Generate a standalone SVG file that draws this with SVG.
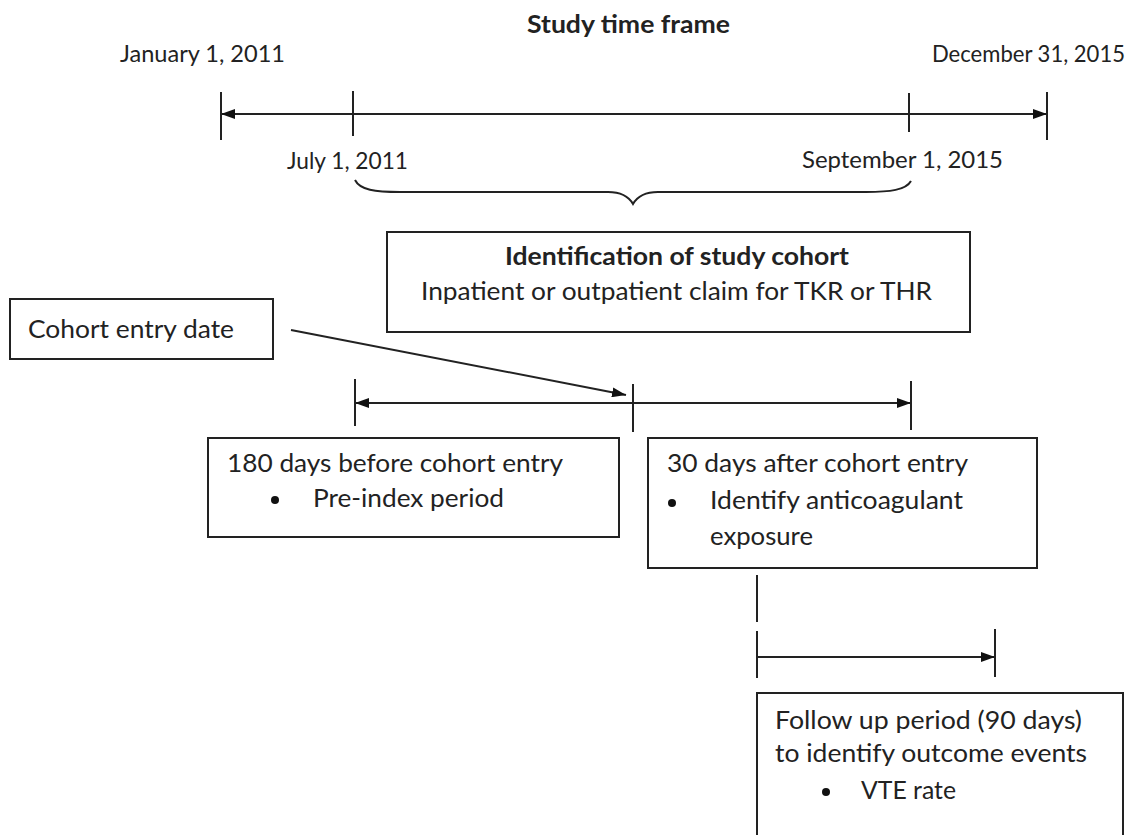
<svg xmlns="http://www.w3.org/2000/svg" width="1144" height="835" viewBox="0 0 1144 835">
  <style>
    .t { font-family: Lato, "Open Sans", "Liberation Sans", sans-serif; font-size: 25px; fill: #222; }
    .s { font-size: 23px; }
    .b { font-weight: bold; }
    .box { fill: #fff; stroke: #222; stroke-width: 2; }
    .ln { stroke: #222; stroke-width: 2; fill: none; }
    .dot { fill: #111; }
  </style>
  <defs>
    <marker id="ah" viewBox="0 0 14 10" refX="14" refY="5" markerWidth="14" markerHeight="10" markerUnits="userSpaceOnUse" orient="auto-start-reverse">
      <path d="M0,0 L14,5 L0,10 Z" fill="#111"/>
    </marker>
  </defs>
  <rect width="1144" height="835" fill="#fff"/>

  <g id="labels">
    <text class="t b" x="527" y="33" textLength="203" lengthAdjust="spacingAndGlyphs">Study time frame</text>
    <text class="t s" x="120" y="62" textLength="165" lengthAdjust="spacingAndGlyphs">January 1, 2011</text>
    <text class="t s" x="932" y="62" textLength="193" lengthAdjust="spacingAndGlyphs">December 31, 2015</text>
    <text class="t s" x="287" y="169" textLength="121" lengthAdjust="spacingAndGlyphs">July 1, 2011</text>
    <text class="t s" x="802" y="168" textLength="201" lengthAdjust="spacingAndGlyphs">September 1, 2015</text>
  </g>

  <g id="connectors">
    <!-- study time frame timeline -->
    <line class="ln" x1="240" y1="114" x2="1028" y2="114"/>
    <line class="ln" x1="353" y1="114" x2="221" y2="114" marker-end="url(#ah)"/>
    <line class="ln" x1="909" y1="114" x2="1047" y2="114" marker-end="url(#ah)"/>
    <line class="ln" x1="221" y1="92" x2="221" y2="140"/>
    <line class="ln" x1="353" y1="91" x2="353" y2="136"/>
    <line class="ln" x1="909" y1="93" x2="909" y2="132"/>
    <line class="ln" x1="1047" y1="92" x2="1047" y2="140"/>
    <!-- brace -->
    <path class="ln" d="M355,180 C360,190 375,192 400,192 L608,192 C622,192 629,197 633,204 C637,197 644,192 658,192 L866,192 C890,192 906,190 911,181"/>
    <!-- cohort entry arrow -->
    <line class="ln" x1="291" y1="330" x2="626" y2="395" marker-end="url(#ah)"/>
    <!-- pre/post index timeline -->
    <line class="ln" x1="633" y1="403" x2="355" y2="403" marker-end="url(#ah)"/>
    <line class="ln" x1="633" y1="403" x2="911" y2="403" marker-end="url(#ah)"/>
    <line class="ln" x1="355" y1="379" x2="355" y2="426"/>
    <line class="ln" x1="633" y1="384" x2="633" y2="432"/>
    <line class="ln" x1="911" y1="381" x2="911" y2="430"/>
    <!-- follow up timeline -->
    <line class="ln" x1="757" y1="575" x2="757" y2="622"/>
    <line class="ln" x1="757" y1="631" x2="757" y2="678"/>
    <line class="ln" x1="757" y1="657" x2="995" y2="657" marker-end="url(#ah)"/>
    <line class="ln" x1="995" y1="629" x2="995" y2="677"/>
  </g>

  <g id="cohort-identification">
    <rect class="box" x="387" y="232" width="583" height="100"/>
    <text class="t b" x="505" y="265" textLength="344" lengthAdjust="spacingAndGlyphs">Identification of study cohort</text>
    <text class="t" x="421" y="300" textLength="511" lengthAdjust="spacingAndGlyphs">Inpatient or outpatient claim for TKR or THR</text>
  </g>

  <g id="cohort-entry-date">
    <rect class="box" x="10" y="299" width="263" height="60"/>
    <text class="t" x="28" y="338" textLength="206" lengthAdjust="spacingAndGlyphs">Cohort entry date</text>
  </g>

  <g id="pre-index">
    <rect class="box" x="208" y="438" width="411" height="99"/>
    <text class="t" x="227" y="472" textLength="336" lengthAdjust="spacingAndGlyphs">180 days before cohort entry</text>
    <circle class="dot" cx="275" cy="500" r="4"/>
    <text class="t" x="313" y="507" textLength="191" lengthAdjust="spacingAndGlyphs">Pre-index period</text>
  </g>

  <g id="exposure">
    <rect class="box" x="648" y="438" width="389" height="130"/>
    <text class="t" x="667" y="472" textLength="301" lengthAdjust="spacingAndGlyphs">30 days after cohort entry</text>
    <circle class="dot" cx="672" cy="503" r="4"/>
    <text class="t" x="710" y="509" textLength="253" lengthAdjust="spacingAndGlyphs">Identify anticoagulant</text>
    <text class="t" x="710" y="545" textLength="103" lengthAdjust="spacingAndGlyphs">exposure</text>
  </g>

  <g id="follow-up">
    <rect class="box" x="757" y="693" width="366" height="170"/>
    <text class="t" x="775" y="729" textLength="307" lengthAdjust="spacingAndGlyphs">Follow up period (90 days)</text>
    <text class="t" x="775" y="762" textLength="312" lengthAdjust="spacingAndGlyphs">to identify outcome events</text>
    <circle class="dot" cx="826" cy="792" r="4"/>
    <text class="t" x="861" y="799" textLength="95" lengthAdjust="spacingAndGlyphs">VTE rate</text>
  </g>
</svg>
